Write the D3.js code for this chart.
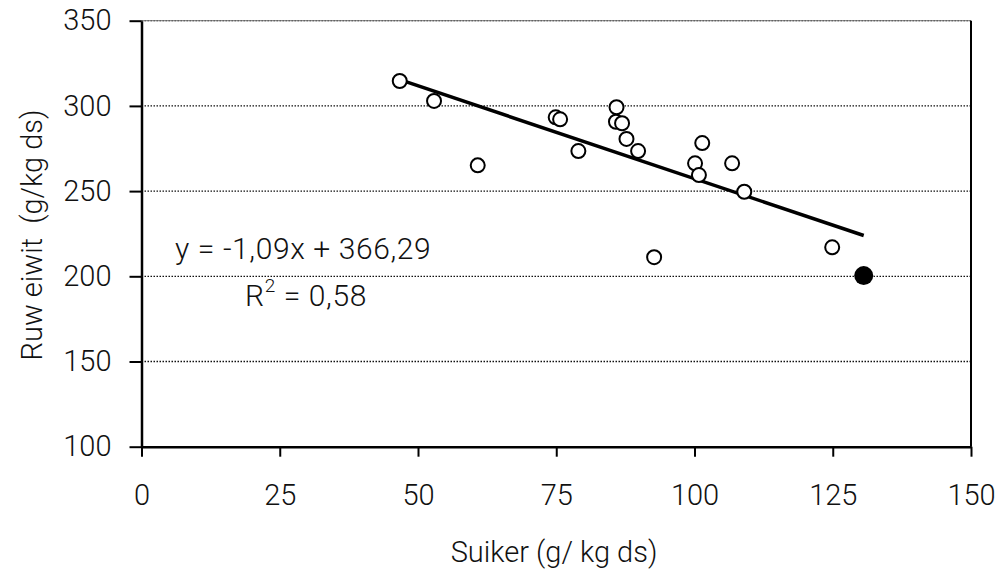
<!DOCTYPE html>
<html><head><meta charset="utf-8">
<script src="https://cdn.jsdelivr.net/npm/d3@7"></script>
<style>
html,body{margin:0;padding:0;background:#fff;}
text{font-family:Roboto,"Open Sans",sans-serif;font-weight:300;fill:#111;}
</style></head>
<body><svg id="c" width="1001" height="571"></svg>
<script>
const suiker = [46.7,52.9,60.8,74.9,75.7,79.0,85.9,85.8,86.9,87.7,89.8,92.7,100.1,100.8,101.4,106.8,109.0,124.9];
const eiwit  = [314.6,302.9,265.1,293.3,292.1,273.5,299.2,290.7,289.8,280.6,273.5,211.2,266.3,259.4,278.2,266.3,249.6,217.0];
const highlightX = [130.6];
const highlightY = [200.4];
const slope = -1.09, intercept = 366.29;
const xTicks = [0,25,50,75,100,125,150];
const yTicks = [100,150,200,250,300,350];
const eqText = "y = -1,09x + 366,29";
const r2Text = "0,58";
const xTitle = "Suiker (g/ kg ds)";
const yTitle = "Ruw eiwit\u00a0\u00a0(g/kg ds)";

const svg = d3.select("#c");
const L=141.5, R=971, T=20.7, B=446.7;
const x = d3.scaleLinear().domain([0,150]).range([L,R]);
const y = d3.scaleLinear().domain([100,350]).range([B,T]);

// gridlines
svg.append("g").selectAll("line").data(yTicks.filter(d=>d>100)).join("line")
  .attr("x1",L).attr("x2",R).attr("y1",d=>y(d)).attr("y2",d=>y(d))
  .attr("stroke","#111").attr("stroke-width",1.3).attr("stroke-dasharray","1.5,1.5");
// top border
svg.append("line").attr("x1",L).attr("x2",R).attr("y1",T).attr("y2",T).attr("stroke","#777").attr("stroke-width",1);
// right border
svg.append("line").attr("x1",R).attr("x2",R).attr("y1",T).attr("y2",B).attr("stroke","#000").attr("stroke-width",2);

// axes
const xAxis = d3.axisBottom(x).tickValues(xTicks).tickSize(10).tickPadding(28).tickSizeOuter(0);
const gx = svg.append("g").attr("transform",`translate(0,${B})`).call(xAxis);
gx.select(".domain").attr("stroke","#000").attr("stroke-width",2.5);
gx.selectAll(".tick line").attr("stroke","#000").attr("stroke-width",2);
gx.selectAll(".tick text").style("font-size","29px").attr("font-family",null).attr("fill","#111").attr("dy","0.71em");

const yAxis = d3.axisLeft(y).tickValues(yTicks).tickSize(12).tickPadding(18).tickSizeOuter(0);
const gy = svg.append("g").attr("transform",`translate(${L},0)`).call(yAxis);
gy.select(".domain").attr("stroke","#000").attr("stroke-width",2.5);
gy.selectAll(".tick line").attr("stroke","#000").attr("stroke-width",2);
gy.selectAll(".tick text").style("font-size","29px").attr("font-family",null).attr("fill","#111");

// regression line
const xmin = d3.min(suiker), xmax = d3.max(highlightX);
svg.append("line").attr("x1",x(xmin)).attr("y1",y(slope*xmin+intercept))
  .attr("x2",x(xmax)).attr("y2",y(slope*xmax+intercept))
  .attr("stroke","#000").attr("stroke-width",3.5);

// open points
svg.append("g").selectAll("circle").data(suiker.map((d,i)=>[d,eiwit[i]])).join("circle")
  .attr("cx",d=>x(d[0])).attr("cy",d=>y(d[1])).attr("r",7)
  .attr("fill","#fff").attr("stroke","#000").attr("stroke-width",2);
// filled point
svg.append("g").selectAll("circle").data(highlightX.map((d,i)=>[d,highlightY[i]])).join("circle")
  .attr("cx",d=>x(d[0])).attr("cy",d=>y(d[1])).attr("r",9.5)
  .attr("fill","#000");

// equation
svg.append("text").attr("x",175).attr("y",259).style("font-size","30px").style("letter-spacing","0.6px").text(eqText);
const r2 = svg.append("text").attr("x",245).attr("y",306).style("font-size","30px").style("letter-spacing","0.6px");
r2.append("tspan").text("R");
r2.append("tspan").attr("dy",-14).style("font-size","19px").text("2");
r2.append("tspan").attr("dy",14).text(" = "+r2Text);

// titles
svg.append("text").attr("x",554).attr("y",562).attr("text-anchor","middle").style("font-size","29px").text(xTitle);
svg.append("text").attr("transform","translate(42,235) rotate(-90)").attr("text-anchor","middle").style("font-size","29px").text(yTitle);
</script></body></html>
